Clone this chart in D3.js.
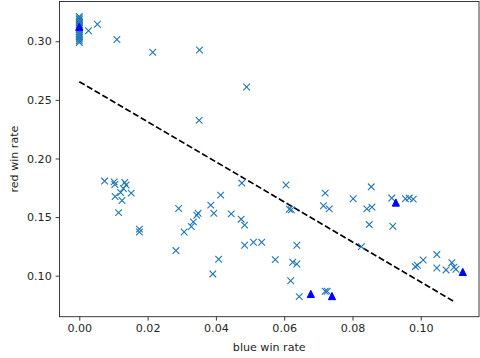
<!DOCTYPE html>
<html><head><meta charset="utf-8">
<script src="https://cdn.jsdelivr.net/npm/d3@7"></script>
<style>body{margin:0;background:#fff}svg{display:block}text{font-family:"DejaVu Sans",sans-serif}</style>
</head><body><svg id="c" width="480" height="358"></svg>
<script>
const blueX = [0,0,0,0,0,0,0,0,0,0,0,0,0,0,0,0,
 0.0027,0.0053,0.011,0.0215,0.0352,0.049,0.0351,
 0.0074,0.0102,0.0104,0.0133,0.0137,0.0129,0.0121,0.0152,0.0105,0.0125,0.0115,0.0176,0.0176,
 0.0476,0.0414,0.0385,0.0394,0.0445,0.0474,0.0484,0.0348,0.0344,0.0334,0.0328,0.0307,0.0291,
 0.0484,0.0510,0.0534,0.0283,0.0408,0.0391,
 0.0605,0.0615,0.0621,0.0720,0.0715,0.0732,0.0802,0.0855,0.0842,0.0857,0.0849,0.0915,0.0955,0.0966,0.0978,0.0918,
 0.0637,0.0574,0.0625,0.0637,0.0826,0.0619,0.0644,0.0720,0.0726,
 0.1047,0.1007,0.0984,0.0990,0.1047,0.1074,0.1091,0.1097,0.1103];
const redY = [0.3212,0.3198,0.3185,0.317,0.3155,0.314,0.3125,0.311,0.3095,0.308,0.3065,0.305,0.3035,0.302,0.3005,0.299,
 0.309,0.3145,0.3015,0.2906,0.2925,0.261,0.2325,
 0.1807,0.180,0.1778,0.1795,0.1773,0.1744,0.1709,0.1704,0.1675,0.1641,0.1538,0.1397,0.1373,
 0.179,0.1687,0.1602,0.1533,0.1527,0.1482,0.1431,0.1533,0.1516,0.1459,0.1419,0.1373,0.1573,
 0.126,0.1285,0.1285,0.1214,0.114,0.1015,
 0.1773,0.1567,0.1562,0.1704,0.1596,0.157,0.1656,0.1758,0.157,0.1585,0.1436,0.1662,0.1656,0.1662,0.1653,0.1422,
 0.126,0.1137,0.1114,0.110,0.1248,0.0957,0.0821,0.0867,0.0867,
 0.118,0.1134,0.1077,0.1089,0.1066,0.1049,0.1111,0.1072,0.1055];
const triX = [0, 0.0678, 0.0740, 0.0927, 0.1123];
const triY = [0.3123, 0.0844, 0.0826, 0.1624, 0.1032];
const lineX = [0, 0.110];
const lineY = [0.2655, 0.0775];
const xTicks = [0.00, 0.02, 0.04, 0.06, 0.08, 0.10];
const yTicks = [0.10, 0.15, 0.20, 0.25, 0.30];
const xLabel = "blue win rate", yLabel = "red win rate";

const svg = d3.select("#c");
const L = 59.5, R = 479, T = 1.5, B = 316.7;
const x = d3.scaleLinear().domain([-0.0058, 0.11705]).range([L, R]);
const y = d3.scaleLinear().domain([0.065, 0.3339]).range([B, T]);

const g = svg.append("g");
g.append("path").datum(lineX.map((v,i)=>[v,lineY[i]]))
 .attr("d", d3.line().x(d=>x(d[0])).y(d=>y(d[1])))
 .attr("fill","none").attr("stroke","#000").attr("stroke-width",1.67)
 .attr("stroke-dasharray","6.2,2.7");
const s = 3.33;
g.selectAll("path.pt").data(blueX.map((v,i)=>[v,redY[i]])).join("path").attr("class","pt")
 .attr("d", d=>{const cx=x(d[0]), cy=y(d[1]);return `M${cx-s},${cy-s}L${cx+s},${cy+s}M${cx-s},${cy+s}L${cx+s},${cy-s}`;})
 .attr("stroke","#1f77b4").attr("stroke-width",1.1).attr("fill","none");
const t = 3.6;
g.selectAll("path.tri").data(triX.map((v,i)=>[v,triY[i]])).join("path").attr("class","tri")
 .attr("d", d=>{const cx=x(d[0]), cy=y(d[1]);return `M${cx},${cy-t}L${cx-t},${cy+t}L${cx+t},${cy+t}Z`;})
 .attr("fill","#0000ff").attr("stroke","#0000ff").attr("stroke-width",1);

const xa = svg.append("g").attr("transform",`translate(0,${B})`)
 .call(d3.axisBottom(x).tickValues(xTicks).tickFormat(d3.format(".2f")).tickSize(3.9).tickPadding(3.9));
const ya = svg.append("g").attr("transform",`translate(${L},0)`)
 .call(d3.axisLeft(y).tickValues(yTicks).tickFormat(d3.format(".2f")).tickSize(3.9).tickPadding(3.9));
[xa,ya].forEach(a=>{a.select(".domain").remove();a.selectAll("text").attr("font-size",11.1).attr("fill","#262626").attr("font-family","DejaVu Sans");a.selectAll("line").attr("stroke","#262626").attr("stroke-width",0.9);});
svg.append("rect").attr("x",L).attr("y",T).attr("width",R-L).attr("height",B-T)
 .attr("fill","none").attr("stroke","#262626").attr("stroke-width",0.9);

svg.append("text").attr("x",(L+R)/2).attr("y",350.5).attr("text-anchor","middle")
 .attr("font-size",11.1).attr("fill","#262626").text(xLabel);
svg.append("text").attr("transform",`translate(18,${(T+B)/2}) rotate(-90)`).attr("text-anchor","middle")
 .attr("font-size",11.1).attr("fill","#262626").text(yLabel);
</script></body></html>
